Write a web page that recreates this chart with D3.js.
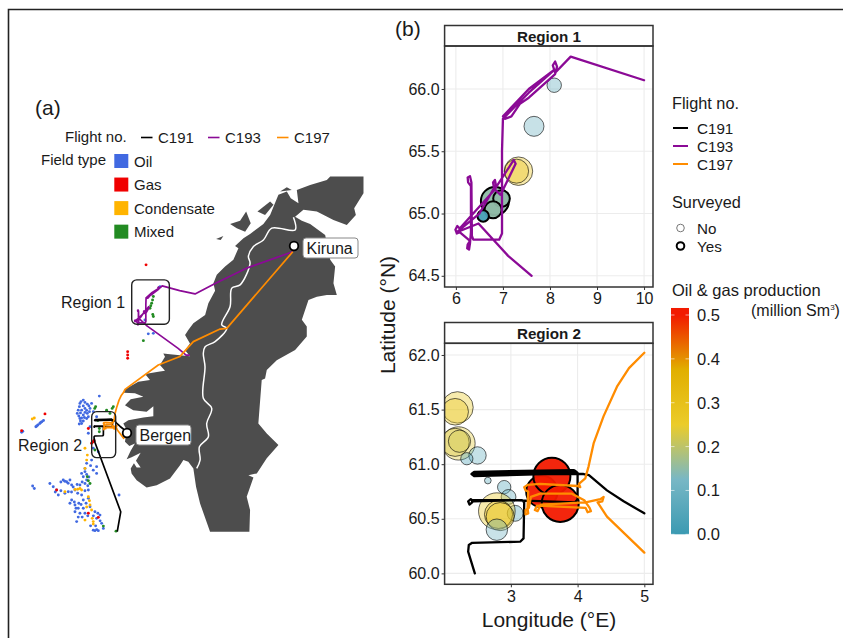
<!DOCTYPE html>
<html>
<head>
<meta charset="utf-8">
<script src="https://cdn.jsdelivr.net/npm/d3@7"></script>
<style>
  html, body { margin: 0; padding: 0; background: #fff; overflow: hidden; }
  svg { display: block; }
  text { font-family: "Liberation Sans", Arial, sans-serif; fill: #1a1a1a; }
</style>
</head>
<body>
<div id="chart"></div>
<script>
// all tracks, coasts and fields are [lon, lat]
const land = [[23.43,70.62],[24.91,70.62],[26.4,70.62],[26.4,69.95],[25.57,69.35],[25.72,69.09],[24.91,68.69],[23.72,68.89],[22.24,69.22],[21.04,69.29],[20.3,69.02],[20.9,68.86],[21.64,68.73],[22.98,68.29],[23.13,67.96],[23.43,67.3],[23.87,67.03],[23.72,66.37],[24.02,65.9],[23.13,65.9],[22.24,65.83],[21.49,65.7],[20.9,64.91],[21.34,64.64],[21.34,64.24],[20.3,63.71],[18.66,63.3],[17.77,62.91],[17.62,62.57],[17.32,62.51],[17.02,60.78],[17.77,60.38],[18.81,59.92],[17.77,59.39],[16.88,58.79],[16.13,58.72],[16.58,58.63],[15.98,57.86],[16.28,57.33],[16.22,56.47],[12.71,56.47],[11.82,57.59],[11.46,58.26],[11.22,58.99],[10.77,59.25],[10.33,59.32],[10.03,59.12],[9.14,58.59],[7.95,58.32],[7.05,58.23],[6.16,58.52],[5.71,58.79],[5.63,58.99],[5.92,59.19],[6.16,59.03],[6.52,59.03],[6.1,59.29],[6.52,59.61],[5.71,59.43],[5.27,59.35],[5.63,59.69],[6.01,59.98],[5.51,59.88],[5.12,60.05],[5.27,60.52],[4.97,60.78],[5.42,60.91],[6.76,61.02],[7.65,61.07],[7.65,61.47],[7.05,61.25],[5.86,61.31],[5.12,61.51],[5.63,61.74],[6.76,61.84],[6.01,61.98],[5.03,62],[5.12,62.14],[6.31,62.44],[7.35,62.51],[6.91,62.75],[8.1,62.84],[8.69,62.88],[8.24,63.11],[8.69,63.44],[8.54,63.57],[9.14,63.54],[10.03,63.5],[10.92,63.46],[10.48,63.7],[10.92,63.97],[10.48,64.3],[10.77,64.5],[11.22,64.77],[12.27,65.1],[12.56,65.57],[13.16,66.07],[13.01,66.37],[13.31,66.7],[14.05,67.03],[14.79,67.3],[15.24,67.76],[14.94,67.85],[15.69,68.16],[16.28,68.33],[17.47,68.73],[18.07,69.09],[18.81,69.89],[19.56,70.02],[19.91,69.75],[20.6,69.55],[20.45,70.08],[21.64,70.28],[23.13,70.48]];
const islandA = [[14.5,68.73],[15.39,68.86],[15.93,69.22],[16.34,68.76],[15.84,68.42],[15.09,68.56]];
const islandB = [[13.25,68.13],[13.9,68.25],[13.66,68.09]];
const islandC = [[16.94,69.22],[18.07,69.62],[18.37,69.49],[17.62,69.09]];
const islandD = [[16.58,68.42],[17.47,68.56],[17.18,68.36]];
const islandE = [[18.96,70.02],[19.56,70.19],[20,70.08]];
const islands = [islandA, islandB, islandC, islandD, islandE];
const border = [[20.15,69],[20.3,68.49],[18.22,68.56],[17.47,68.09],[16.58,67.83],[16.13,67.43],[16.28,67.16],[15.39,66.3],[14.65,66.17],[14.5,65.44],[13.75,64.71],[14.2,64.57],[13.16,64.04],[12.27,63.84],[12.11,63.57],[12.26,63.04],[12.11,61.78],[12.86,61.38],[12.41,60.78],[12.56,60.25],[11.76,59.85],[11.82,59.32],[11.52,58.99]];

const oilFields = [[1.1,61.58],[1.4,61.71],[1.76,61.55],[2.14,61.58],[.95,61.31],[1.25,61.31],[1.55,61.38],[2,61.38],[.86,61.18],[1.4,61.12],[1.76,61.18],[1.1,60.98],[1.7,60.98],[1.25,60.78],[2.83,61.87],[1.04,60.76],[2.59,61.05],
  [1.2,61.65],[1.55,61.62],[1.9,61.48],[1.05,61.45],[1.4,61.48],[1.7,61.3],[1.15,61.2],[1.55,61.22],[1.95,61.25],[1.0,61.08],[1.25,61.0],[1.5,61.02],[1.85,61.05],[1.4,60.88],[1.15,60.88],[2.3,61.25],
  [-1.58,58.39],[-1.28,58.26],[-.98,58.13],[-.83,57.93],[-.39,58.53],[-.09,58.46],[.21,58.53],[.36,58.33],[-.24,58],[.06,58.06],[.66,58.13],[1.1,58.33],[1.55,58.39],[1.85,58.13],[1.4,58.66],[1.25,58.79],[1.55,58.99],[2.29,58.92],[2.59,58.79],[.36,57.73],[.66,57.53],[.95,57.4],[1.4,57.4],[.66,57.26],[1.1,57.2],[.81,56.87],[1.4,57.73],[1.85,57.8],[2.44,57.26],[2.89,57.13],[3.04,56.8],[2.29,56.53],[2.74,56.51],[3.19,56.6],[1.55,58.86],[1.7,58.53],[-3.12,58.29],[-2.97,58.19],[1.25,57.93],[.21,57.6],[1.55,57.2],[2,57.46],[2.59,57],[2.14,59.32],[2.59,59.06],[1.7,59.19],[2.29,59.79],[2.74,59.65],[1.85,60.39],[2,60.65],[4.59,57.93],[2.44,56.51],[2.6,56.55],
  [-.25,58.48],[-.6,58.45],[.05,58.4],[.5,58.25],[.85,58.35],[1.3,58.45],[1.8,58.3],[.35,58.05],[.9,58.0],[1.55,58.1],[-1.1,58.05],[-.6,58.1],[.6,57.65],[1,57.6],[.75,57.4],[1.2,57.55],[1.65,57.6],[1.3,57.05],[.95,57.05],[1.8,57.1],[2.3,57.1],[2.7,57.2],[2.05,56.7],[2.5,56.7],[2.9,56.9],[1.7,58.75],[1.9,58.65],[2.05,59.1],
  [-2.83,60.65],[-2.65,60.72],[-2.48,60.78],[-2.3,60.85],[-2.15,60.9],[-2.75,60.68],[-2.4,60.82],[-4.1,60.43],[-4,60.47],[6.9,64.9],[7.2,64.35],[7.65,64.37],[8.25,66.23]];
const gasFields = [[1.85,60.58],[2.29,60.05],[2.14,59.99],[2.35,60.1],[-.98,58.13],[1.85,57.2],[2.74,57.04],[-2.02,61.16],[-4.1,60.49],[7,67.1],[5.36,63.64],[5.36,63.51],[5.36,63.38]];
const condensateFields = [[-2.97,61],[-3.15,60.96],[1.55,59.79],[1.76,59.52],[1.7,59.32],[1.55,58.99],[.66,58.15],[1.1,58.19],[1.25,58.13],[.9,58.16],[1.85,57.86],[2,57.53],[2.14,57.33],[1.55,56.93],[2.29,56.87],[2.29,56.77],[-.24,58.06],[1.95,57.7],[1.7,57.45],[2.2,57.0]];
const mixedFields = [[2.5,61.45],[2.42,61.38],[4.08,61.45],[3.98,61.38],[3.48,61.31],[2.83,60.58],[2.83,60.45],[1.76,58.66],[2,58.39],[1.85,58.5],[3.19,56.69],[4.32,56.49],[2.44,59.72],[3.78,61.18],[7.65,65.84],[7.5,65.57],[7.35,65.37],[7.65,65.04],[6.76,64.08],[2.7,60.9],[7.58,65.7],[7.42,65.47],[7.6,65.12]];

// flight legs inside the panels
const c193Region = [[10,66.07],[8.44,66.26],[8.11,66.13],[8.06,66.19],[8.11,66.22],[8.15,66.18],[8.11,66.12],[7.55,65.93],[7.36,65.88],[7.18,65.78],[7.04,65.76],[7,65.78],[7.55,66],[8.08,66.15],[7.55,65.97],[7,65.76],[6.98,65.5],[6.98,65.22],[6.98,64.84],[6.92,64.79],[6.37,64.79],[6.34,64.82],[6.33,65.25],[6.3,65.3],[6.25,65.29],[6.26,65.25],[6.32,65.22],[6.32,64.85],[6.3,64.76],[6.28,64.71],[6.24,64.72],[6.25,64.75],[6.3,64.78],[6.08,64.85],[6.02,64.84],[5.99,64.87],[6.03,64.9],[6.08,64.88],[6.8,65.18],[7.23,65.43],[7.27,65.4],[6.95,65.15],[6.81,65.2],[6.79,65.25],[6.83,65.27],[6.85,65.23],[6.5,65],[6.02,64.85],[6.48,64.92],[7.11,64.66],[7.61,64.5]];
const c191Region = [[5,60.55],[4.69,60.66],[4.44,60.76],[4.17,60.9],[4.09,60.91],[3.5,60.91],[2.45,60.89],[2.41,60.91],[2.45,60.93],[3.44,60.94],[3.94,60.945],[4,60.92],[3.9,60.92],[2.45,60.91],[2.45,60.93],[3.44,60.93],[3.96,60.94],[4,60.92],[4,60.68],[3.96,60.65],[3,60.67],[2.44,60.66],[2.4,60.68],[2.36,60.66],[2.38,60.63],[2.42,60.65],[2.42,60.67],[3.17,60.67],[3.2,60.65],[3.19,60.32],[3.14,60.29],[2.42,60.28],[2.37,60.26],[2.36,60.2],[2.46,60]];
const c197Region = [[5,62.02],[4.77,61.88],[4.59,61.71],[4.39,61.44],[4.24,61.19],[4.165,60.98],[4.115,60.87],[4.02,60.82],[4.04,60.79],[4.0,60.8],[3.44,60.82],[3.25,60.81],[3.2,60.79],[3.22,60.76],[3.26,60.75],[3.25,60.6],[3.26,60.55],[3.22,60.54],[3.22,60.58],[3.27,60.6],[3.3,60.7],[3.44,60.73],[3.915,60.73],[4.1,60.67],[4.18,60.6],[4.2,60.57],[4.15,60.56],[4.12,60.6],[3.39,60.62],[3.36,60.58],[3.4,60.57],[3.45,60.63],[4.12,60.65],[4.34,60.68],[4.39,60.7],[4.37,60.66],[4.3,60.65],[4.44,60.52],[5,60.19]];

// extra legs that only show on the map
const c193Outbound = [[20.09,67.62],[16.1,66.99],[13.16,66.36],[11.37,65.94]];
const c193Inbound = [[9.86,63.77],[10.57,63.5],[10.9,63.5]];
const c197Outbound = [[20.09,67.62],[14.2,64.57],[13.6,64.54],[11.22,64.04],[10.03,63.45],[8.09,63.11],[5.12,62.14]];
const c197Inbound = [[5.3,60.4]];
const c191Outbound = [[5.3,60.4]];
const c191Inbound = [[4.74,57.26],[4.43,56.47]];

// lon, lat, production, size (share of the largest circle), surveyed
const region1Fields = [
  [8.09,66.03,.08,.39,0],[7.66,65.7,.1,.54,0],[7.33,65.34,.28,.77,0],[7.29,65.34,.28,.65,0],
  [6.83,65.1,.15,.76,1],[6.97,65.12,.15,.45,1],[6.79,65.03,.15,.46,1],[6.58,64.98,.02,.31,1]
];
const region2Fields = [
  [2.2,61.52,.26,.85,0],[2.165,61.48,.27,.72,0],[2.215,61.19,.24,.9,0],[2.165,61.2,.23,.76,0],[2.23,61.21,.22,.6,0],
  [2.5,61.08,.09,.47,0],[2.34,61.05,.04,.33,0],[2.655,60.85,.07,.18,0],[2.9,60.79,.05,.36,0],[2.965,60.7,.09,.4,0],[3.065,60.55,.06,.43,0],
  [2.79,60.57,.27,.99,0],[2.815,60.54,.3,.76,0],[2.84,60.52,.27,.76,0],[2.79,60.4,.11,.58,0],
  [3.465,60.75,.5,.85,1],[3.615,60.89,.5,1,1],[3.74,60.64,.5,1,1]
];

const flightNames = ["C191", "C193", "C197"];
const flightColors = ["#000000", "#8b0a96", "#ff8c00"];
const fieldTypes = ["Oil", "Gas", "Condensate", "Mixed"];
const fieldColors = ["#4169e1", "#f00000", "#ffb400", "#228b22"];
const prodStops = [0, .125, .25, .375, .5];
const prodColors = ["#3B9AB2", "#78B7C5", "#EBCC2A", "#E1AF00", "#F21A00"];
const prodTicks = [0, .1, .2, .3, .4, .5];
const surveyedNames = ["No", "Yes"];
const cities = [["Kiruna", 20.2, 67.85], ["Bergen", 5.3, 60.4]];
const regionBoxes = [["Region 1", 5.72, 9.08, 64.73, 66.5], ["Region 2", 2.15, 4.29, 59.42, 61.25]];

const svg = d3.select("#chart").append("svg").attr("width", 843).attr("height", 638);
const color = d3.scaleLinear().domain(prodStops).range(prodColors);
const radius = d3.scaleLinear().domain([0, 1]).range([0, 18.5]);

svg.append("path").attr("d", "M843,9.5H8.5V638").attr("fill", "none").attr("stroke", "#222").attr("stroke-width", 1.6);

// ----- panel (a), the map -----
const mapX = d3.scaleLinear().domain([5.3, 20.2]).range([127, 294]);
const mapY = d3.scaleLinear().domain([60.4, 67.85]).range([433, 246]);
const mapLine = d3.line().x(d => mapX(d[0])).y(d => mapY(d[1]));
const map = svg.append("g");

map.append("path").attr("d", mapLine(land) + "Z").attr("fill", "#4d4d4d");
map.selectAll("path.island").data(islands).join("path").attr("class", "island")
  .attr("d", d => mapLine(d) + "Z").attr("fill", "#4d4d4d");
map.append("path").attr("d", mapLine.curve(d3.curveCatmullRom)(border)).attr("fill", "none").attr("stroke", "#fff").attr("stroke-width", 1.5);
mapLine.curve(d3.curveLinear);

[oilFields, mixedFields, condensateFields, gasFields].forEach((pts, i) => {
  const c = [fieldColors[0], fieldColors[3], fieldColors[2], fieldColors[1]][i];
  map.selectAll(null).data(pts).join("circle")
    .attr("cx", d => mapX(d[0])).attr("cy", d => mapY(d[1])).attr("r", 1.45).attr("fill", c);
});

const mapTracks = [
  [c191Outbound.concat(c191Region, c191Inbound), flightColors[0]],
  [c193Outbound.concat(c193Region, c193Inbound), flightColors[1]],
  [c197Outbound.concat(c197Region, c197Inbound), flightColors[2]]
];
map.selectAll("path.track").data(mapTracks).join("path").attr("class", "track")
  .attr("d", d => mapLine(d[0])).attr("fill", "none").attr("stroke", d => d[1])
  .attr("stroke-width", 1.7).attr("stroke-linejoin", "round");

map.selectAll("rect.box").data(regionBoxes).join("rect").attr("class", "box")
  .attr("x", d => mapX(d[1])).attr("y", d => mapY(d[4]))
  .attr("width", d => mapX(d[2]) - mapX(d[1])).attr("height", d => mapY(d[3]) - mapY(d[4]))
  .attr("rx", 5).attr("fill", "none").attr("stroke", "#222").attr("stroke-width", 1.4);

map.selectAll("circle.city").data(cities).join("circle").attr("class", "city")
  .attr("cx", d => mapX(d[1])).attr("cy", d => mapY(d[2])).attr("r", 4.3)
  .attr("fill", "#fff").attr("stroke", "#000").attr("stroke-width", 1.8);

const cityLabels = map.selectAll("g.label").data(cities).join("g").attr("class", "label")
  .attr("transform", d => `translate(${mapX(d[1]) + 9},${mapY(d[2]) - 8})`);
cityLabels.append("rect").attr("width", 55).attr("height", 20).attr("rx", 3)
  .attr("fill", "#fff").attr("stroke", "#888").attr("stroke-width", 1);
cityLabels.append("text").attr("x", 3.5).attr("y", 15.5).attr("font-size", 16).text(d => d[0]);

svg.append("text").attr("x", 35).attr("y", 115).attr("font-size", 21).text("(a)");
svg.append("text").attr("x", 61).attr("y", 308).attr("font-size", 16).text("Region 1");
svg.append("text").attr("x", 18).attr("y", 451).attr("font-size", 16).text("Region 2");

svg.append("text").attr("x", 65).attr("y", 142).attr("font-size", 15).text("Flight no.");
const mapLegendX = [141, 208, 277];
flightNames.forEach((name, i) => {
  svg.append("line").attr("x1", mapLegendX[i]).attr("x2", mapLegendX[i] + 11.5).attr("y1", 137.5).attr("y2", 137.5)
    .attr("stroke", flightColors[i]).attr("stroke-width", 1.6);
  svg.append("text").attr("x", mapLegendX[i] + 17).attr("y", 143).attr("font-size", 15).text(name);
});
svg.append("text").attr("x", 41).attr("y", 165).attr("font-size", 15).text("Field type");
fieldTypes.forEach((name, i) => {
  const y = 154 + i * 23.55;
  svg.append("rect").attr("x", 114.3).attr("y", y).attr("width", 14).attr("height", 14).attr("fill", fieldColors[i]);
  svg.append("text").attr("x", 134).attr("y", y + 12.5).attr("font-size", 15).text(name);
});

// ----- panel (b), the two regions -----
svg.append("text").attr("x", 395).attr("y", 36).attr("font-size", 21).text("(b)");

function drawPanel(cfg) {
  const g = svg.append("g");
  const x = d3.scaleLinear().domain(cfg.xDomain).range([444.6, 653]);
  const y = d3.scaleLinear().domain(cfg.yDomain).range([cfg.bottom, cfg.stripBottom]);
  const clipId = "clip-" + cfg.title.replace(" ", "");
  svg.append("clipPath").attr("id", clipId).append("rect")
    .attr("x", 444.6).attr("y", cfg.stripBottom).attr("width", 208.4).attr("height", cfg.bottom - cfg.stripBottom);

  g.selectAll("line.gx").data(cfg.xTicks).join("line").attr("class", "gx")
    .attr("x1", d => x(d)).attr("x2", d => x(d)).attr("y1", cfg.stripBottom).attr("y2", cfg.bottom)
    .attr("stroke", "#ececec").attr("stroke-width", 1.1);
  g.selectAll("line.gy").data(cfg.yTicks).join("line").attr("class", "gy")
    .attr("y1", d => y(d)).attr("y2", d => y(d)).attr("x1", 444.6).attr("x2", 653)
    .attr("stroke", "#ececec").attr("stroke-width", 1.1);

  const inner = g.append("g").attr("clip-path", `url(#${clipId})`);
  inner.selectAll("circle").data(cfg.fields).join("circle")
    .attr("cx", d => x(d[0])).attr("cy", d => y(d[1])).attr("r", d => radius(d[3]))
    .attr("fill", d => color(d[2])).attr("fill-opacity", d => d[4] ? .95 : .38)
    .attr("stroke", "#000").attr("stroke-opacity", d => d[4] ? 1 : .6).attr("stroke-width", d => d[4] ? 2 : 1);

  const line = d3.line().x(d => x(d[0])).y(d => y(d[1]));
  inner.selectAll("path").data(cfg.tracks).join("path")
    .attr("d", d => line(d[0])).attr("fill", "none").attr("stroke", d => d[1])
    .attr("stroke-width", 2.3).attr("stroke-linejoin", "round").attr("stroke-linecap", "round");

  g.append("rect").attr("x", 444.6).attr("y", cfg.stripTop).attr("width", 208.4).attr("height", cfg.stripBottom - cfg.stripTop)
    .attr("fill", "#fff").attr("stroke", "#333").attr("stroke-width", 1.5);
  g.append("rect").attr("x", 444.6).attr("y", cfg.stripBottom).attr("width", 208.4).attr("height", cfg.bottom - cfg.stripBottom)
    .attr("fill", "none").attr("stroke", "#333").attr("stroke-width", 1.5);
  g.append("text").attr("x", 549).attr("y", cfg.stripTop + 16).attr("text-anchor", "middle")
    .attr("font-size", 15.2).attr("font-weight", "bold").text(cfg.title);

  const xAxis = g.append("g").attr("transform", `translate(0,${cfg.bottom})`)
    .call(d3.axisBottom(x).tickValues(cfg.xTicks).tickFormat(d3.format("d")).tickSize(3).tickPadding(3));
  const yAxis = g.append("g").attr("transform", "translate(444.6,0)")
    .call(d3.axisLeft(y).tickValues(cfg.yTicks).tickFormat(d3.format(".1f")).tickSize(3).tickPadding(2));
  [xAxis, yAxis].forEach(a => {
    a.select(".domain").remove();
    a.selectAll("line").attr("stroke", "#333");
    a.selectAll("text").attr("font-size", 16).attr("font-family", '"Liberation Sans", Arial, sans-serif').attr("fill", "#222");
  });
}

drawPanel({
  title: "Region 1", xDomain: [5.76, 10.19], yDomain: [64.41, 66.345],
  stripTop: 25.5, stripBottom: 46, bottom: 287,
  xTicks: [6, 7, 8, 9, 10], yTicks: [64.5, 65, 65.5, 66],
  fields: region1Fields, tracks: [[c193Region, flightColors[1]]]
});
drawPanel({
  title: "Region 2", xDomain: [2.007, 5.13], yDomain: [59.9, 62.107],
  stripTop: 322.5, stripBottom: 343.3, bottom: 584.3,
  xTicks: [3, 4, 5], yTicks: [60, 60.5, 61, 61.5, 62],
  fields: region2Fields, tracks: [[c191Region, flightColors[0]], [c197Region, flightColors[2]]]
});

svg.append("text").attr("transform", "translate(395,315) rotate(-90)").attr("text-anchor", "middle").attr("font-size", 21).text("Latitude (°N)");
svg.append("text").attr("x", 549).attr("y", 627).attr("text-anchor", "middle").attr("font-size", 21).text("Longitude (°E)");

// ----- right hand legends -----
svg.append("text").attr("x", 672).attr("y", 109).attr("font-size", 16.3).text("Flight no.");
flightNames.forEach((name, i) => {
  const y = 128 + i * 18;
  svg.append("line").attr("x1", 673).attr("x2", 688).attr("y1", y).attr("y2", y).attr("stroke", flightColors[i]).attr("stroke-width", 2);
  svg.append("text").attr("x", 697).attr("y", y + 5.5).attr("font-size", 15.2).text(name);
});
svg.append("text").attr("x", 672).attr("y", 208).attr("font-size", 16.3).text("Surveyed");
surveyedNames.forEach((name, i) => {
  const y = 228 + i * 18;
  svg.append("circle").attr("cx", 680.5).attr("cy", y).attr("r", 3.8).attr("fill", "#fff")
    .attr("stroke", i ? "#000" : "#777").attr("stroke-width", i ? 2 : 1);
  svg.append("text").attr("x", 697).attr("y", y + 5.5).attr("font-size", 15.2).text(name);
});

svg.append("text").attr("x", 672).attr("y", 296).attr("font-size", 16.5).text("Oil & gas production");
const unitText = svg.append("text").attr("x", 751).attr("y", 316).attr("font-size", 16).text("(million Sm");
unitText.append("tspan").attr("dy", -6).attr("font-size", 8).text("3");
unitText.append("tspan").attr("dy", 6).text(")");

const barY = d3.scaleLinear().domain([0, .5]).range([534.3, 315]);
const grad = svg.append("defs").append("linearGradient").attr("id", "prodGrad").attr("x1", 0).attr("x2", 0).attr("y1", 1).attr("y2", 0);
grad.selectAll("stop").data(prodStops).join("stop")
  .attr("offset", d => d / .516).attr("stop-color", d => color(d));
grad.append("stop").attr("offset", 1).attr("stop-color", prodColors[4]);
svg.append("rect").attr("x", 671).attr("y", barY(.516)).attr("width", 18).attr("height", barY(0) - barY(.516)).attr("fill", "url(#prodGrad)");
svg.selectAll("line.barTick").data(prodTicks).join("line").attr("class", "barTick")
  .attr("x1", 671).attr("x2", 674.5).attr("y1", d => barY(d)).attr("y2", d => barY(d)).attr("stroke", "#fff").attr("stroke-width", .6);
svg.selectAll("line.barTickR").data(prodTicks).join("line").attr("class", "barTickR")
  .attr("x1", 685.5).attr("x2", 689).attr("y1", d => barY(d)).attr("y2", d => barY(d)).attr("stroke", "#fff").attr("stroke-width", .6);
svg.selectAll("text.barLabel").data(prodTicks).join("text").attr("class", "barLabel")
  .attr("x", 697).attr("y", d => barY(d) + 6).attr("font-size", 16.5).text(d => d3.format(".1f")(d));
</script>
</body>
</html>
